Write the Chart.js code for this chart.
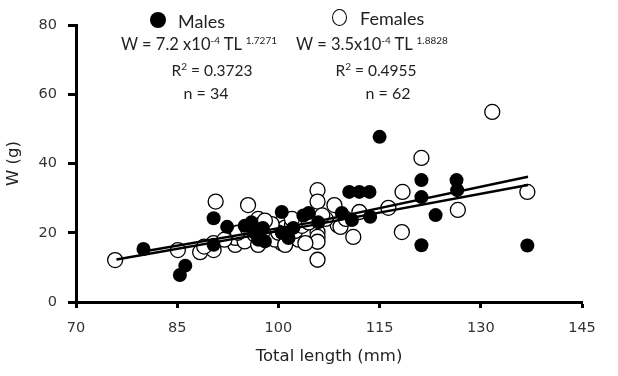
<!DOCTYPE html>
<html>
<head>
<meta charset="utf-8">
<script src="https://cdn.jsdelivr.net/npm/chart.js@4"></script>
<style>
  html, body { margin:0; padding:0; background:#fff; }
  #wrap { position:relative; width:618px; height:376px; font-family: Lato, "DejaVu Sans", sans-serif; color:#222; }
  canvas { position:absolute; left:0; top:0; }
  .t { position:absolute; white-space:nowrap; line-height:20px; }
  .c { text-align:center; width:240px; }
  sup { font-size:10px; vertical-align: 6px; line-height:0; }
  .mk { position:absolute; width:16px; height:16px; border-radius:50%; box-sizing:border-box; }
</style>
</head>
<body>
<div id="wrap">
  <canvas id="c" width="618" height="376"></canvas>
  <div class="mk" style="left:150px;top:12px;background:#000;"></div>
  <div class="t" style="left:178px;top:11px;font-size:18px;">Males</div>
  <div class="mk" style="left:332px;top:9px;width:15px;height:17px;background:#fff;border:1.5px solid #000;"></div>
  <div class="t" style="left:360px;top:8px;font-size:18px;">Females</div>
  <div class="t c" style="left:79px;top:34px;font-size:16.5px;">W = 7.2 x10<sup>-4</sup> TL <sup>1.7271</sup></div>
  <div class="t c" style="left:252px;top:34px;font-size:16.5px;">W = 3.5x10<sup>-4</sup> TL <sup>1.8828</sup></div>
  <div class="t c" style="left:92px;top:60px;font-size:15.5px;">R<sup>2</sup> = 0.3723</div>
  <div class="t c" style="left:256px;top:60px;font-size:15.5px;">R<sup>2</sup> = 0.4955</div>
  <div class="t c" style="left:86px;top:83px;font-size:16px;">n = 34</div>
  <div class="t c" style="left:268px;top:83px;font-size:16px;">n = 62</div>
</div>
<script>
// ---- data ----
const maleTL = [80, 85.4, 86.2, 90.4, 90.4, 92.4, 95, 96, 96.5, 97, 97.5, 98, 97.7,
  100.5, 100.5, 101.5, 102.2, 103.7, 105.9, 104.5, 109.4, 110.9, 110.5, 112, 113.5,
  113.6, 115, 121.2, 121.2, 123.3, 121.2, 126.4, 126.5, 136.9];
const maleW = [15.3, 7.8, 10.5, 24.2, 16.5, 21.7, 22, 23, 20, 18, 21, 17.5, 21.4,
  26, 20, 18.5, 21.4, 25, 23, 25.7, 25.7, 23.7, 31.8, 31.8, 31.8,
  24.6, 47.7, 35.2, 30.3, 25.1, 16.4, 35.2, 32.3, 16.3];

const femaleTL = [75.8, 85.1, 88.4, 90.4, 90.4, 90.7, 93.6, 93.6, 95.5, 95, 96, 97, 98,
  97, 99, 100.5, 100.5, 100, 101, 102, 103, 104, 105.8, 105.8, 105.8, 105.8, 105.8,
  105.8, 108.3, 108.8, 109.2, 111.1, 112, 116.3, 118.4, 118.3, 121.2, 126.6, 131.7,
  136.9, 94, 95.5, 96.5, 97.5, 98.5, 99.5, 100, 101.5, 102.5, 103.5, 104.5, 104,
  101, 99, 97, 110, 107, 92, 89, 98, 102, 106.5];
const femaleW = [12.1, 15, 14.4, 17, 15, 29, 16.5, 18.5, 28, 17.5, 22, 24, 19,
  16.5, 21, 23, 17, 19, 21.5, 22, 18, 20.5, 32.3, 29, 20.2, 18.8, 17.4,
  12.2, 28, 22.2, 21.7, 18.8, 26, 27.2, 31.8, 20.2, 41.6, 26.6, 54.9,
  31.8, 20, 21, 19.5, 22.5, 20.5, 18, 20, 19.5, 20.5, 22, 23, 17,
  16.5, 22.5, 20.5, 24, 24, 18, 16, 23.5, 24, 25];

const maleFitTL = [80, 105, 137];
const maleFitW = [14.6, 23.0, 36.2];
const femaleFitTL = [76, 105, 137];
const femaleFitW = [12.3, 22.2, 33.8];

const xTicks = [70, 85, 100, 115, 130, 145];
const yTicks = [0, 20, 40, 60, 80];

const pts = (xs, ys) => xs.map((x, i) => ({x, y: ys[i]}));

new Chart(document.getElementById('c'), {
  type: 'scatter',
  data: {
    datasets: [
      { label: 'Male fit', type: 'line', data: pts(maleFitTL, maleFitW), borderColor: '#000',
        borderWidth: 2.5, pointRadius: 0, fill: false, order: 0 },
      { label: 'Female fit', type: 'line', data: pts(femaleFitTL, femaleFitW), borderColor: '#000',
        borderWidth: 2.5, pointRadius: 0, fill: false, order: 0 },
      { label: 'Males', data: pts(maleTL, maleW), backgroundColor: '#000', borderColor: '#000',
        borderWidth: 0, pointRadius: 7, order: 1 },
      { label: 'Females', data: pts(femaleTL, femaleW), backgroundColor: '#fff', borderColor: '#000',
        borderWidth: 1.3, pointRadius: 7.5, order: 2 }
    ]
  },
  options: {
    responsive: false,
    animation: false,
    devicePixelRatio: 1,
    layout: { padding: { top: 25, right: 36, bottom: 0, left: 0 } },
    plugins: { legend: { display: false }, tooltip: { enabled: false } },
    scales: {
      x: {
        type: 'linear', min: 70, max: 145,
        afterBuildTicks: s => { s.ticks = xTicks.map(v => ({value: v})); },
        afterFit: s => { s.height = 74; },
        grid: { drawOnChartArea: false, drawTicks: true, tickLength: 6, tickWidth: 3, tickColor: '#000' },
        border: { display: true, color: '#000', width: 3 },
        ticks: { padding: 12, color: '#333', font: { family: 'DejaVu Sans', size: 14.5 }, maxRotation: 0, autoSkip: false },
        title: { display: true, text: 'Total length (mm)', color: '#222',
          font: { family: 'DejaVu Sans', size: 16.5 }, padding: { top: 0, bottom: 9 } }
      },
      y: {
        type: 'linear', min: 0, max: 80,
        afterBuildTicks: s => { s.ticks = yTicks.map(v => ({value: v})); },
        afterFit: s => { s.width = 76; },
        grid: { drawOnChartArea: false, drawTicks: true, tickLength: 8, tickWidth: 3, tickColor: '#000' },
        border: { display: true, color: '#000', width: 3 },
        ticks: { padding: 11, color: '#333', font: { family: 'DejaVu Sans', size: 14.5 }, autoSkip: false },
        title: { display: true, text: 'W (g)', color: '#222',
          font: { family: 'DejaVu Sans', size: 16.5 }, padding: { top: 4, bottom: 0 } }
      }
    }
  }
});
</script>
</body>
</html>
